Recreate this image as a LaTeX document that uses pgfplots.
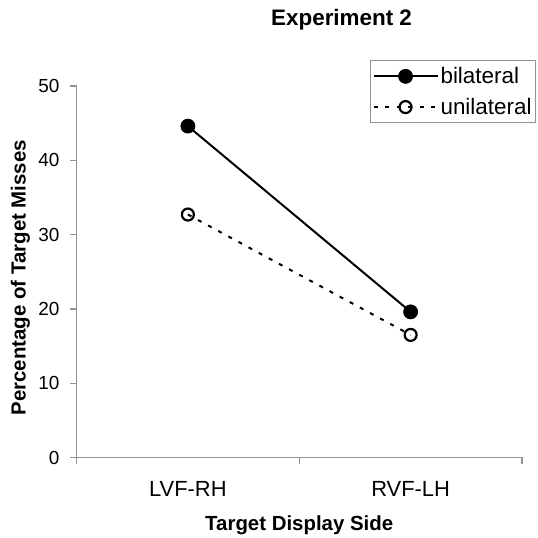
\documentclass[border=0pt]{standalone}
\usepackage{pgfplots}
\pgfplotsset{compat=1.18}
\usepackage{fontspec}
\setmainfont{Liberation Sans}
\begin{document}
\begin{tikzpicture}[x=1bp,y=1bp]
\useasboundingbox (0,0) rectangle (538,538);
\begin{axis}[
  at={(76.5bp,80.5bp)}, anchor=south west,
  scale only axis, width=445.5bp, height=371.5bp,
  xmin=-0.5, xmax=1.5, ymin=0, ymax=50,
  axis x line*=bottom, axis y line*=left,
  axis line style={color=gray!85, line width=1.3bp, -},
  tick style={color=gray!85, line width=1.3bp},
  tick align=outside,
  major tick length=6.5bp,
  xtick={-0.5,0.5,1.5}, xticklabels={},
  extra x ticks={0,1}, extra x tick labels={LVF-RH,RVF-LH},
  extra x tick style={major tick length=0bp,
     xticklabel style={font=\fontsize{22}{26}\selectfont, yshift=-20bp}},
  ytick={0,10,20,30,40,50},
  yticklabel style={font=\fontsize{19}{23}\selectfont, xshift=-7bp},
  /pgf/number format/assume math mode=true,
  xlabel={Target Display Side},
  xlabel style={font=\bfseries\fontsize{20.5}{24}\selectfont, at={(axis description cs:0.5,-0.183)}, anchor=center},
  ylabel={Percentage of Target Misses},
  ylabel style={font=\bfseries\fontsize{20.5}{24}\selectfont, at={(axis description cs:-0.126,0.484)}, anchor=center, rotate=0},
  title={Experiment 2},
  title style={font=\bfseries\fontsize{22.5}{26}\selectfont, at={(axis description cs:0.595,1.163)}, anchor=center},
  clip=false,
  legend style={at={(axis description cs:1.0314,1.070)}, anchor=north east,
     draw=gray!85, line width=1bp, font=\fontsize{22.5}{27}\selectfont,
     row sep=9bp, inner xsep=2bp, inner ysep=5bp, cells={anchor=west}},
  legend image code/.code={
    \draw[mark repeat=2,mark phase=2,#1] plot coordinates {(0bp,0bp) (32bp,0bp) (64bp,0bp)};
  },
]
\addplot[black, line width=2bp, mark=*, mark size=7bp, mark options={solid, fill=black, line width=0.8bp}]
  coordinates {(0,44.6) (1,19.6)};
\addlegendentry{bilateral}
\addplot[black, line width=2bp, dash pattern=on 4bp off 7.5bp, mark=o, mark size=6bp, mark options={solid, fill=white, line width=2.2bp}]
  coordinates {(0,32.7) (1,16.5)};
\addlegendentry{unilateral}
\end{axis}
\end{tikzpicture}
\end{document}
